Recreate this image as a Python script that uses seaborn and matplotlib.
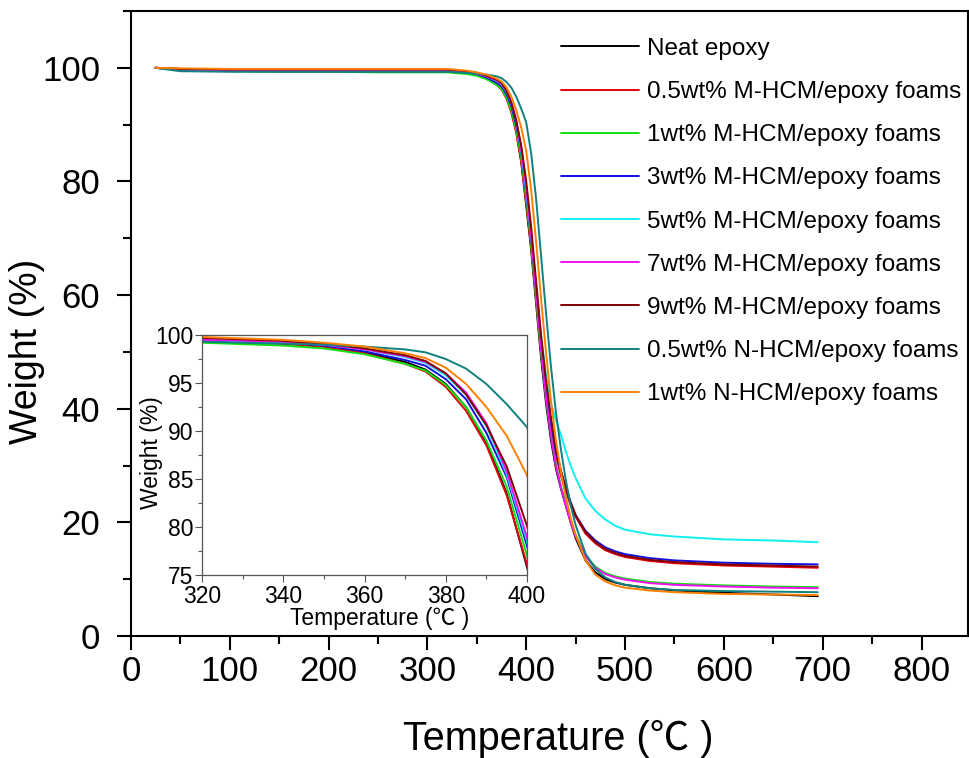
import matplotlib
matplotlib.use('Agg')
import matplotlib.pyplot as plt
import seaborn as sns
import pandas as pd
from matplotlib.ticker import MultipleLocator

temps = [25, 50, 100, 150, 200, 250, 300, 320, 340, 350, 360, 370, 375, 380, 385,
         390, 395, 400, 405, 410, 415, 420, 425, 430, 435, 440, 445, 450, 460, 470,
         480, 490, 500, 525, 550, 600, 650, 695]

neat = [100, 99.8, 99.7, 99.6, 99.5, 99.5, 99.5, 99.4, 99.1, 98.8, 98.2, 97.2, 96.4, 94.9, 92.5,
        88.8, 83.5, 75.8, 68.0, 58.5, 49.0, 41.0, 34.5, 29.5, 26.0, 23.0, 20.0, 17.2, 13.3, 11.2,
        10.0, 9.4, 9.0, 8.4, 8.0, 7.6, 7.3, 7.0]
m05 = [100, 99.8, 99.7, 99.6, 99.5, 99.5, 99.4, 99.4, 99.1, 98.8, 98.1, 97.0, 96.2, 94.6, 92.1,
       88.5, 83.3, 76.1, 68.5, 59.5, 50.5, 42.5, 36.5, 31.8, 28.3, 25.5, 23.0, 21.0, 18.0, 16.3,
       15.1, 14.4, 13.9, 13.2, 12.8, 12.4, 12.2, 12.0]
m1 = [100, 99.6, 99.4, 99.3, 99.3, 99.2, 99.2, 99.2, 98.9, 98.6, 98.0, 97.0, 96.3, 94.8, 92.5,
      89.0, 84.2, 77.0, 69.0, 59.5, 50.0, 42.0, 35.5, 30.2, 26.5, 23.3, 20.3, 17.8, 14.2, 12.2,
      11.1, 10.5, 10.1, 9.5, 9.2, 8.9, 8.7, 8.6]
m3 = [100, 99.6, 99.5, 99.4, 99.4, 99.4, 99.4, 99.4, 99.2, 98.9, 98.3, 97.4, 96.8, 95.4, 93.3,
      89.8, 85.2, 78.0, 70.0, 61.0, 52.0, 44.0, 37.5, 32.5, 29.0, 26.0, 23.5, 21.3, 18.5, 16.8,
      15.6, 14.9, 14.4, 13.7, 13.3, 12.9, 12.7, 12.6]
m5 = [100, 99.7, 99.6, 99.5, 99.5, 99.5, 99.5, 99.5, 99.2, 99.0, 98.5, 97.7, 97.1, 95.8, 93.8,
      90.5, 85.5, 78.5, 70.5, 61.5, 53.0, 46.0, 41.0, 38.0, 35.5, 32.5, 30.0, 27.8, 24.2, 22.0,
      20.5, 19.4, 18.7, 17.9, 17.5, 17.0, 16.8, 16.5]
m7 = [100, 99.7, 99.6, 99.6, 99.5, 99.5, 99.5, 99.5, 99.3, 99.0, 98.5, 97.8, 97.2, 96.0, 94.0,
      90.8, 85.8, 78.9, 70.5, 60.5, 50.5, 42.0, 35.3, 30.0, 26.2, 23.0, 20.0, 17.5, 14.0, 12.0,
      10.9, 10.3, 9.9, 9.3, 9.0, 8.7, 8.5, 8.4]
m9 = [100, 99.8, 99.7, 99.7, 99.7, 99.7, 99.7, 99.7, 99.4, 99.1, 98.6, 97.9, 97.3, 96.0, 93.8,
      90.6, 86.3, 80.1, 72.0, 62.5, 53.0, 45.0, 38.5, 33.0, 29.2, 26.2, 23.5, 21.2, 18.3, 16.5,
      15.3, 14.6, 14.1, 13.4, 13.0, 12.6, 12.4, 12.2]
n05 = [100, 99.4, 99.3, 99.3, 99.3, 99.3, 99.3, 99.3, 99.1, 99.0, 98.8, 98.5, 98.2, 97.5, 96.5,
       94.9, 92.8, 90.4, 85.0, 77.0, 67.0, 57.0, 47.5, 39.5, 33.0, 27.5, 23.0, 19.5, 14.5, 11.8,
       10.3, 9.5, 9.0, 8.4, 8.1, 7.9, 7.8, 7.7]
n1 = [100, 99.9, 99.8, 99.8, 99.8, 99.8, 99.8, 99.8, 99.5, 99.2, 98.8, 98.1, 97.6, 96.6, 94.9,
      92.5, 89.5, 85.4, 78.5, 69.5, 59.5, 50.0, 41.5, 34.5, 29.0, 24.5, 20.8, 17.8, 13.3, 10.8,
      9.6, 8.9, 8.5, 8.0, 7.7, 7.4, 7.3, 7.2]

labels = ['Neat epoxy', '0.5wt% M-HCM/epoxy foams', '1wt% M-HCM/epoxy foams',
          '3wt% M-HCM/epoxy foams', '5wt% M-HCM/epoxy foams', '7wt% M-HCM/epoxy foams',
          '9wt% M-HCM/epoxy foams', '0.5wt% N-HCM/epoxy foams', '1wt% N-HCM/epoxy foams']
series = [neat, m05, m1, m3, m5, m7, m9, n05, n1]
colors = ['#000000', '#e8000b', '#10e010', '#1010e0', '#10f0f0', '#f010f0',
          '#800000', '#108080', '#ff8000']

sns.set_style('ticks')
plt.rcParams['font.family'] = ['Liberation Sans', 'Noto Sans CJK SC', 'DejaVu Sans']
plt.rcParams['text.color'] = 'black'
plt.rcParams['axes.labelcolor'] = 'black'
plt.rcParams['xtick.color'] = 'black'
plt.rcParams['ytick.color'] = 'black'

fig = plt.figure(figsize=(9.69, 7.58), dpi=100)
ax = fig.add_axes([0.135, 0.161, 0.864, 0.8245])

for lab, vals, c in zip(labels, series, colors):
    df = pd.DataFrame({'T': temps, 'W': vals})
    sns.lineplot(data=df, x='T', y='W', ax=ax, color=c, lw=1.4, label=lab, sort=False)

ax.set_xlim(0, 847)
ax.set_ylim(0, 110)
ax.xaxis.set_major_locator(MultipleLocator(100))
ax.xaxis.set_minor_locator(MultipleLocator(50))
ax.yaxis.set_minor_locator(MultipleLocator(10))
ax.set_yticks([0, 20, 40, 60, 80, 100])
ax.tick_params(which='major', direction='out', length=10, width=1.5, labelsize=25,
               colors='black')
ax.tick_params(which='minor', direction='out', length=6, width=1.5, colors='black')
ax.tick_params(axis='y', which='major', pad=12)
for s in ax.spines.values():
    s.set_linewidth(1.5)
    s.set_color('black')
ax.set_xlabel('Temperature (℃ )', fontsize=28.5)
ax.set_ylabel('Weight (%)', fontsize=27)
ax.xaxis.set_label_coords(0.51, -0.134)
ax.yaxis.set_label_coords(-0.102, 0.456)

ax.legend(loc='upper left', bbox_to_anchor=(0.579, 0.950), bbox_transform=fig.transFigure,
          frameon=False, fontsize=17.5, handlelength=3.2, handletextpad=0.35,
          labelspacing=0.87, borderpad=0, borderaxespad=0)

# inset zoom of the onset of decomposition
ins = fig.add_axes([0.2085, 0.2414, 0.3354, 0.3166])
for lab, vals, c in zip(labels, series, colors):
    df = pd.DataFrame({'T': temps, 'W': vals})
    sns.lineplot(data=df, x='T', y='W', ax=ins, color=c, lw=1.4, legend=False, sort=False)
ins.set_xlim(320, 400)
ins.set_ylim(75, 100)
ins.xaxis.set_major_locator(MultipleLocator(20))
ins.xaxis.set_minor_locator(MultipleLocator(10))
ins.yaxis.set_major_locator(MultipleLocator(5))
ins.yaxis.set_minor_locator(MultipleLocator(2.5))
ins.tick_params(which='major', direction='out', length=5, width=0.8, labelsize=16.5,
                pad=1, color='#555555', labelcolor='black')
ins.tick_params(axis='x', which='major', pad=2)
ins.tick_params(which='minor', direction='out', length=3, width=0.8, color='#555555')
for s in ins.spines.values():
    s.set_linewidth(0.9)
    s.set_color('#555555')
ins.set_xlabel('Temperature (℃ )', fontsize=16.5)
ins.set_ylabel('Weight (%)', fontsize=16.5)
ins.xaxis.set_label_coords(0.545, -0.135)
ins.yaxis.set_label_coords(-0.12, 0.51)

fig.savefig('out.png', dpi=100)
